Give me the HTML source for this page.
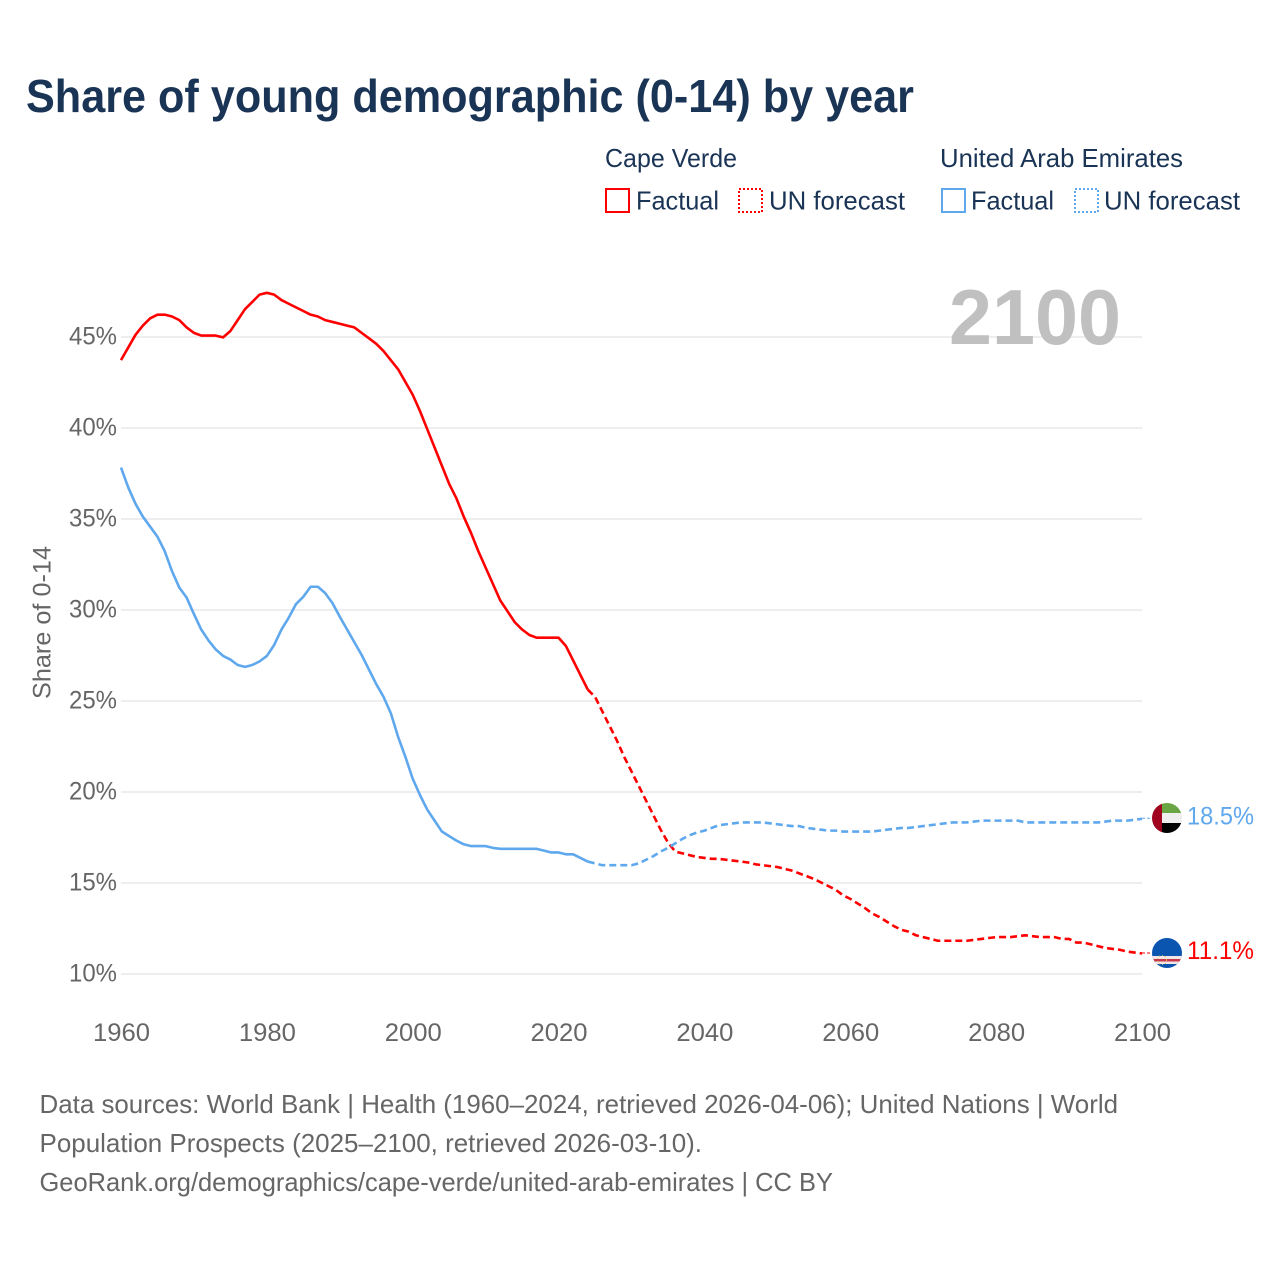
<!DOCTYPE html>
<html lang="en">
<head>
<meta charset="utf-8">
<title>Share of young demographic (0-14) by year</title>
<style>
html,body{margin:0;padding:0;background:#fff;}
svg{display:block;font-family:"Liberation Sans",sans-serif;}
.legend{font-size:26px;fill:#1a3456;}
.axis{font-size:25px;fill:#666;}
.foot{font-size:26px;fill:#666;}
</style>
</head>
<body>
<svg id="chart" xmlns="http://www.w3.org/2000/svg" width="1280" height="1280" viewBox="0 0 1280 1280">
  <defs>
    <clipPath id="clip-uae"><circle id="clip-uae-c" cx="1167" cy="818" r="15"></circle></clipPath>
    <clipPath id="clip-cv"><circle id="clip-cv-c" cx="1167" cy="953" r="15"></circle></clipPath>
  </defs>
  <text x="26" y="112" font-size="46" font-weight="700" fill="#1a3456" textLength="888" lengthAdjust="spacingAndGlyphs">Share of young demographic (0-14) by year</text>

  <g>
    <text class="legend" x="605" y="167" textLength="132" lengthAdjust="spacingAndGlyphs">Cape Verde</text>
    <text class="legend" x="940" y="167" textLength="243" lengthAdjust="spacingAndGlyphs">United Arab Emirates</text>
    <rect x="606" y="189" width="23" height="23" fill="none" stroke="#ff0000" stroke-width="2" shape-rendering="crispEdges"></rect>
    <text class="legend" x="636" y="209.5" textLength="83" lengthAdjust="spacingAndGlyphs">Factual</text>
    <rect x="739" y="189" width="23" height="23" fill="none" stroke="#ff0000" stroke-width="2" stroke-dasharray="2 2" shape-rendering="crispEdges"></rect>
    <text class="legend" x="769" y="209.5" textLength="136" lengthAdjust="spacingAndGlyphs">UN forecast</text>
    <rect x="942" y="189" width="23" height="23" fill="none" stroke="#5fa8ee" stroke-width="2" shape-rendering="crispEdges"></rect>
    <text class="legend" x="971" y="209.5" textLength="83" lengthAdjust="spacingAndGlyphs">Factual</text>
    <rect x="1075" y="189" width="23" height="23" fill="none" stroke="#5fa8ee" stroke-width="2" stroke-dasharray="2 2" shape-rendering="crispEdges"></rect>
    <text class="legend" x="1104" y="209.5" textLength="136" lengthAdjust="spacingAndGlyphs">UN forecast</text>
  </g>

  <g id="grid"></g>
  <text x="949" y="344" font-size="78" font-weight="700" fill="#c0c0c0" textLength="172" lengthAdjust="spacingAndGlyphs">2100</text>
  <g id="y-axis"></g>
  <g id="x-axis"></g>
  <text class="axis" transform="translate(50.5,699) rotate(-90)" x="0" y="0" textLength="153" lengthAdjust="spacingAndGlyphs">Share of 0-14</text>
  <g id="series"></g>

  <g id="flag-uae" clip-path="url(#clip-uae)">
    <rect x="1152" y="803" width="30" height="10" fill="#6aa544"></rect>
    <rect x="1152" y="813" width="30" height="10" fill="#eeeeee"></rect>
    <rect x="1152" y="823" width="30" height="10" fill="#000000"></rect>
    <rect x="1152" y="803" width="10" height="30" fill="#a0041e"></rect>
  </g>
  <g id="flag-cv" clip-path="url(#clip-cv)">
    <rect x="1152" y="938" width="30" height="30" fill="#0a55b0"></rect>
    <rect x="1152" y="956" width="30" height="8" fill="#f3e6e6"></rect>
    <rect x="1152" y="959" width="30" height="2.5" fill="#c8384a"></rect>
    <circle cx="1162" cy="960" r="4.5" fill="none" stroke="#d9c24a" stroke-width="1" stroke-dasharray="1 2"></circle>
  </g>
  <g id="end-labels"></g>

  <g>
    <text class="foot" x="39.5" y="1113" textLength="1078.5" lengthAdjust="spacingAndGlyphs">Data sources: World Bank | Health (1960–2024, retrieved 2026-04-06); United Nations | World</text>
    <text class="foot" x="39.5" y="1152" textLength="662.5" lengthAdjust="spacingAndGlyphs">Population Prospects (2025–2100, retrieved 2026-03-10).</text>
    <text class="foot" x="39.5" y="1191" textLength="793.5" lengthAdjust="spacingAndGlyphs">GeoRank.org/demographics/cape-verde/united-arab-emirates | CC BY</text>
  </g>
</svg>
<script>
const yTicks = [10, 15, 20, 25, 30, 35, 40, 45];
const xTicks = [1960, 1980, 2000, 2020, 2040, 2060, 2080, 2100];
const factualStartYear = 1960;
const forecastStartYear = 2025;
const capeVerdeFactual = [
  43.7,44.4,45.1,45.6,46.0,46.2,46.2,46.1,45.9,45.5,
  45.2,45.05,45.05,45.05,44.95,45.3,45.9,46.5,46.9,47.3,
  47.4,47.3,47.0,46.8,46.6,46.4,46.2,46.1,45.9,45.8,
  45.7,45.6,45.5,45.2,44.9,44.6,44.2,43.7,43.2,42.5,
  41.8,40.9,39.9,38.9,37.9,36.9,36.1,35.1,34.2,33.2,
  32.3,31.4,30.5,29.9,29.3,28.9,28.6,28.45,28.45,28.45,
  28.45,28.0,27.2,26.4,25.6
];
const capeVerdeForecast = [
  25.2,24.4,23.6,22.8,21.9,21.1,20.3,19.5,18.7,17.9,17.2,16.7,16.6,16.5,16.4,
  16.35,16.3,16.3,16.25,16.2,16.15,16.1,16.0,15.95,15.9,
  15.85,15.75,15.65,15.5,15.35,15.2,15.0,14.8,14.6,14.3,
  14.1,13.85,13.6,13.3,13.1,12.85,12.6,12.4,12.3,12.1,
  12.0,11.9,11.8,11.8,11.8,11.8,11.8,11.85,11.9,11.95,
  12.0,12.0,12.0,12.05,12.1,12.05,12.0,12.0,12.0,11.9,
  11.9,11.7,11.7,11.6,11.5,11.4,11.35,11.3,11.2,11.15,
  11.1
];
const uaeFactual = [
  37.8,36.7,35.8,35.1,34.55,34.0,33.2,32.1,31.2,30.65,
  29.75,28.9,28.3,27.8,27.45,27.25,26.95,26.85,26.95,27.15,
  27.45,28.05,28.9,29.55,30.3,30.7,31.25,31.25,30.9,30.35,
  29.6,28.9,28.2,27.5,26.7,25.9,25.2,24.3,23.0,21.9,
  20.7,19.8,19.0,18.4,17.8,17.55,17.3,17.1,17.0,17.0,
  17.0,16.9,16.85,16.85,16.85,16.85,16.85,16.85,16.75,16.65,
  16.65,16.55,16.55,16.35,16.15
];
const uaeForecast = [
  16.05,15.95,15.95,15.95,15.95,15.95,16.05,16.25,16.45,16.7,16.9,17.15,17.4,17.6,17.75,
  17.85,18.0,18.15,18.2,18.25,18.3,18.3,18.3,18.3,18.25,
  18.2,18.15,18.1,18.1,18.0,17.95,17.9,17.85,17.85,17.8,
  17.8,17.8,17.8,17.8,17.85,17.9,17.95,18.0,18.0,18.05,
  18.1,18.15,18.2,18.25,18.3,18.3,18.3,18.35,18.4,18.4,
  18.4,18.4,18.4,18.4,18.3,18.3,18.3,18.3,18.3,18.3,
  18.3,18.3,18.3,18.3,18.3,18.35,18.4,18.4,18.4,18.45,
  18.5
];

const NS = 'http://www.w3.org/2000/svg';
function xScale(year) { return 121 + (year - 1960) * (1142 - 121) / 140; }
function yScale(v) { return 974 - (v - 10) * (974 - 337) / 35; }
function make(tag, attrs, parent) {
  const el = document.createElementNS(NS, tag);
  for (const k in attrs) el.setAttribute(k, attrs[k]);
  parent.appendChild(el);
  return el;
}
function toPoints(values, startYear) {
  return values.map((v, i) => xScale(startYear + i).toFixed(2) + ',' + (yScale(v) - 0.5).toFixed(2)).join(' ');
}

const gridG = document.getElementById('grid');
const yG = document.getElementById('y-axis');
const xG = document.getElementById('x-axis');
const seriesG = document.getElementById('series');
const labelsG = document.getElementById('end-labels');

yTicks.forEach(function (t) {
  const line = make('line', { x1: 121, x2: 1142, y1: yScale(t), y2: yScale(t), stroke: '#eeeeee', 'stroke-width': 2 }, gridG);
  
  
  const label = make('text', { x: 69, y: yScale(t) + 7.5, class: 'axis', textLength: 48, lengthAdjust: 'spacingAndGlyphs' }, yG);
  label.textContent = t + '%';
  
  
});

xTicks.forEach(function (t) {
  const label = make('text', { x: xScale(t) - 28, y: 1041, class: 'axis', textLength: 57, lengthAdjust: 'spacingAndGlyphs' }, xG);
  label.textContent = t;
  
  
});

function drawSeries(slug, color, factual, forecast) {
  const solid = make('polyline', { points: toPoints(factual, factualStartYear), fill: 'none', stroke: color, 'stroke-width': 2.6, 'stroke-linejoin': 'round' }, seriesG);
  
  
  const joined = [factual[factual.length - 1]].concat(forecast);
  const dashed = make('polyline', { points: toPoints(joined, forecastStartYear - 1), fill: 'none', stroke: color, 'stroke-width': 2.6, 'stroke-dasharray': '7 4', 'stroke-linejoin': 'round' }, seriesG);
  
  
  const last = forecast[forecast.length - 1];
  const cy = yScale(last) - 1;
  const leader = make('line', { x1: xScale(2100), x2: 1152, y1: cy, y2: cy, stroke: color, 'stroke-width': 1, 'stroke-dasharray': '3 2' }, seriesG);
  
  
  const label = make('text', { x: 1187, y: cy + 6, 'font-size': 25, fill: color, textLength: 67, lengthAdjust: 'spacingAndGlyphs' }, labelsG);
  label.textContent = last.toFixed(1) + '%';
  
  
  return cy;
}

drawSeries('cape-verde', '#ff0000', capeVerdeFactual, capeVerdeForecast);
drawSeries('uae', '#5fa8ee', uaeFactual, uaeForecast);
</script>
</body>
</html>
